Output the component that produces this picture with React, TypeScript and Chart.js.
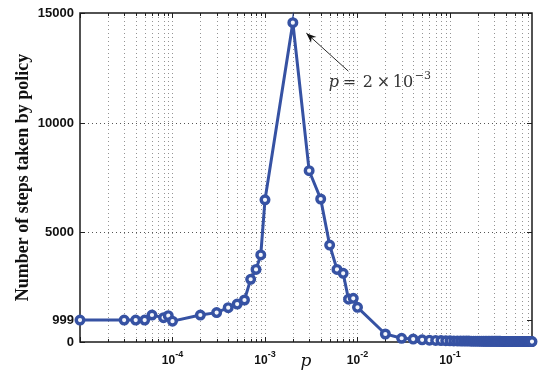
import React, { useEffect, useRef } from 'react';
import { Chart, registerables } from 'chart.js';

Chart.register(...registerables);

// ---- data ----
const pValues = [
  1e-5, 3e-5, 4e-5, 5e-5, 6e-5, 8e-5, 9e-5, 1e-4,
  2e-4, 3e-4, 4e-4, 5e-4, 6e-4, 7e-4, 8e-4, 9e-4,
  1e-3, 2e-3, 3e-3, 4e-3, 5e-3, 6e-3, 7e-3, 8e-3, 9e-3,
  1e-2, 2e-2, 3e-2, 4e-2, 5e-2,
  0.06, 0.07, 0.08, 0.09, 0.10, 0.11, 0.12, 0.13, 0.14, 0.15,
  0.16, 0.17, 0.18, 0.19, 0.20, 0.21, 0.22, 0.23, 0.24, 0.25,
  0.26, 0.27, 0.28, 0.29, 0.30, 0.31, 0.32, 0.33, 0.34, 0.35,
  0.36, 0.37, 0.38, 0.39, 0.40, 0.41, 0.42, 0.43, 0.44, 0.45,
  0.46, 0.47, 0.48, 0.49, 0.50, 0.51, 0.52, 0.53, 0.54, 0.55,
  0.56, 0.57, 0.58, 0.59, 0.60, 0.61, 0.62, 0.63, 0.64, 0.65,
  0.66, 0.67, 0.68, 0.69, 0.70, 0.71, 0.72, 0.73, 0.74, 0.75,
  0.76, 0.77,
];
const steps = [
  999, 1000, 1000, 1000, 1230, 1110, 1200, 950,
  1230, 1340, 1565, 1730, 1915, 2860, 3310, 3970,
  6480, 14560, 7810, 6520, 4420, 3310, 3130, 1950, 1990,
  1580, 365, 170, 135, 100,
  85, 72, 64, 58, 54, 50, 47, 45, 43, 41,
  40, 39, 38, 37, 36, 35, 34, 34, 33, 33,
  32, 32, 31, 31, 30, 30, 30, 29, 29, 29,
  28, 28, 28, 27, 27, 27, 27, 26, 26, 26,
  26, 25, 25, 25, 25, 25, 24, 24, 24, 24,
  24, 23, 23, 23, 23, 23, 23, 22, 22, 22,
  22, 22, 22, 22, 21, 21, 21, 21, 21, 21,
  21, 20,
];

const yTicks = [0, 999, 5000, 10000, 15000];
const yTickLabels = ['0', '999', '5000', '10000', '15000'];
const yGridValues = [5000, 10000];
const xMajorTicks = [1e-4, 1e-3, 1e-2, 1e-1];
const xTickExponents = ['-4', '-3', '-2', '-1'];
const xMin = 1e-5;
const xMax = 0.77;
const yMin = 0;
const yMax = 15000;

const peakP = 2e-3;
const peakSteps = 14560;

const BLUE = '#3652a3';

function minorPositions(): { v: number; major: boolean }[] {
  const out: { v: number; major: boolean }[] = [];
  for (let k = -5; k <= 0; k++) {
    for (let m = 1; m <= 9; m++) {
      const v = m * Math.pow(10, k);
      if (v >= xMin * 0.999 && v <= xMax * 1.001) out.push({ v, major: m === 1 });
    }
  }
  return out;
}

const decorPlugin = {
  id: 'decor',
  beforeDatasetsDraw(chart: any) {
    const { ctx, chartArea: a, scales } = chart;
    const x = scales.x;
    const y = scales.y;
    ctx.save();
    // dotted grid
    ctx.strokeStyle = 'rgba(60,60,60,0.55)';
    ctx.lineWidth = 1;
    ctx.setLineDash([1, 3]);
    for (const t of minorPositions()) {
      const px = Math.round(x.getPixelForValue(t.v)) + 0.5;
      if (px <= a.left + 1 || px >= a.right - 1) continue;
      ctx.beginPath();
      ctx.moveTo(px, a.top);
      ctx.lineTo(px, a.bottom);
      ctx.stroke();
    }
    ctx.strokeStyle = 'rgba(30,30,30,0.75)';
    for (const v of yGridValues) {
      const py = Math.round(y.getPixelForValue(v)) + 0.5;
      ctx.beginPath();
      ctx.moveTo(a.left, py);
      ctx.lineTo(a.right, py);
      ctx.stroke();
    }
    ctx.setLineDash([]);
    // inward ticks
    ctx.strokeStyle = '#222';
    ctx.lineWidth = 1;
    for (const t of minorPositions()) {
      const px = Math.round(x.getPixelForValue(t.v)) + 0.5;
      const len = t.major ? 5 : 3;
      ctx.beginPath();
      ctx.moveTo(px, a.bottom);
      ctx.lineTo(px, a.bottom - len);
      ctx.moveTo(px, a.top);
      ctx.lineTo(px, a.top + len);
      ctx.stroke();
    }
    for (const v of yTicks) {
      const py = Math.round(y.getPixelForValue(v)) + 0.5;
      ctx.beginPath();
      ctx.moveTo(a.left, py);
      ctx.lineTo(a.left + 5, py);
      ctx.moveTo(a.right, py);
      ctx.lineTo(a.right - 5, py);
      ctx.stroke();
    }
    // box
    ctx.strokeStyle = '#1a1a1a';
    ctx.lineWidth = 1.5;
    ctx.strokeRect(a.left, a.top, a.right - a.left, a.bottom - a.top);
    ctx.restore();
  },
  afterDraw(chart: any) {
    const { ctx, chartArea: a, scales } = chart;
    const x = scales.x;
    const y = scales.y;
    ctx.save();
    ctx.fillStyle = '#111';
    // y tick labels
    ctx.font = 'bold 13px "Liberation Sans", Arial, sans-serif';
    ctx.textAlign = 'right';
    ctx.textBaseline = 'middle';
    yTicks.forEach((v, i) => {
      ctx.fillText(yTickLabels[i], a.left - 6, y.getPixelForValue(v) + 0.5);
    });
    // x tick labels with superscripts
    ctx.textBaseline = 'alphabetic';
    ctx.textAlign = 'left';
    xMajorTicks.forEach((v, i) => {
      const px = x.getPixelForValue(v);
      ctx.font = 'bold 12px "Liberation Sans", Arial, sans-serif';
      const wBase = ctx.measureText('10').width;
      ctx.font = 'bold 9px "Liberation Sans", Arial, sans-serif';
      const wSup = ctx.measureText(xTickExponents[i]).width;
      const left = px - (wBase + wSup) / 2;
      ctx.font = 'bold 12px "Liberation Sans", Arial, sans-serif';
      ctx.fillText('10', left, a.bottom + 22);
      ctx.font = 'bold 9px "Liberation Sans", Arial, sans-serif';
      ctx.fillText(xTickExponents[i], left + wBase, a.bottom + 15);
    });
    // x title
    ctx.font = 'italic 17px "DejaVu Serif", serif';
    ctx.textAlign = 'center';
    ctx.fillText('p', (a.left + a.right) / 2 + 0, a.bottom + 24);
    // y title
    ctx.save();
    ctx.translate(27.5, (a.top + a.bottom) / 2);
    ctx.rotate(-Math.PI / 2);
    ctx.font = 'bold 18px "Liberation Serif", "Times New Roman", serif';
    ctx.textAlign = 'center';
    ctx.fillText('Number of steps taken by policy', 0, 0);
    ctx.restore();

    // annotation
    const pk = { x: x.getPixelForValue(peakP), y: y.getPixelForValue(peakSteps) };
    const head = { x: pk.x + 13.5, y: pk.y + 10.5 };
    const tail = { x: pk.x + 55.5, y: pk.y + 48.5 };
    ctx.strokeStyle = '#111';
    ctx.lineWidth = 0.9;
    ctx.beginPath();
    ctx.moveTo(tail.x, tail.y);
    ctx.lineTo(head.x, head.y);
    ctx.stroke();
    const ang = Math.atan2(head.y - tail.y, head.x - tail.x);
    const L = 10;
    const W = 4;
    ctx.beginPath();
    ctx.moveTo(head.x, head.y);
    ctx.lineTo(head.x - L * Math.cos(ang) + W * Math.sin(ang), head.y - L * Math.sin(ang) - W * Math.cos(ang));
    ctx.lineTo(head.x - L * 0.7 * Math.cos(ang), head.y - L * 0.7 * Math.sin(ang));
    ctx.lineTo(head.x - L * Math.cos(ang) - W * Math.sin(ang), head.y - L * Math.sin(ang) + W * Math.cos(ang));
    ctx.closePath();
    ctx.fillStyle = '#111';
    ctx.fill();

    const tx = pk.x + 36;
    const ty = pk.y + 64;
    ctx.fillStyle = '#333';
    ctx.textAlign = 'left';
    ctx.font = 'italic 16px "DejaVu Serif", serif';
    ctx.fillText('p', tx, ty);
    ctx.font = '16px "DejaVu Serif", serif';
    ctx.fillText('=', tx + 14, ty);
    ctx.fillText('2', tx + 34, ty);
    ctx.fillText('\u00d7', tx + 48, ty);
    ctx.fillText('10', tx + 64, ty);
    ctx.font = '11px "DejaVu Serif", serif';
    ctx.fillText('\u22123', tx + 86, ty - 8);
    ctx.restore();
  },
};

export default function App() {
  const ref = useRef<HTMLCanvasElement | null>(null);
  useEffect(() => {
    if (!ref.current) return;
    const chart = new Chart(ref.current, {
      type: 'line',
      data: {
        datasets: [
          {
            data: pValues.map((p, i) => ({ x: p, y: steps[i] })),
            borderColor: BLUE,
            borderWidth: 3,
            pointRadius: 3.8,
            pointBorderWidth: 3.4,
            pointBackgroundColor: '#f4f6fb',
            pointBorderColor: BLUE,
            tension: 0,
            clip: false as any,
          },
        ],
      },
      options: {
        animation: false,
        responsive: false,
        maintainAspectRatio: false,
        layout: { padding: { top: 13, right: 10, left: 0, bottom: 0 } },
        plugins: { legend: { display: false }, tooltip: { enabled: false }, title: { display: false } },
        scales: {
          x: {
            type: 'logarithmic',
            min: xMin,
            max: xMax,
            grid: { display: false },
            border: { display: false },
            ticks: { display: false },
            afterFit: (s: any) => {
              s.height = 31;
            },
          },
          y: {
            type: 'linear',
            min: yMin,
            max: yMax,
            grid: { display: false },
            border: { display: false },
            ticks: { display: false },
            afterFit: (s: any) => {
              s.width = 80;
            },
          },
        },
      },
      plugins: [decorPlugin],
    });
    return () => chart.destroy();
  }, []);
  return (
    <div style={{ position: 'absolute', left: 0, top: 0, width: 542, height: 373, background: '#fff' }}>
      <canvas ref={ref} width={542} height={373} style={{ width: 542, height: 373 }} />
    </div>
  );
}
